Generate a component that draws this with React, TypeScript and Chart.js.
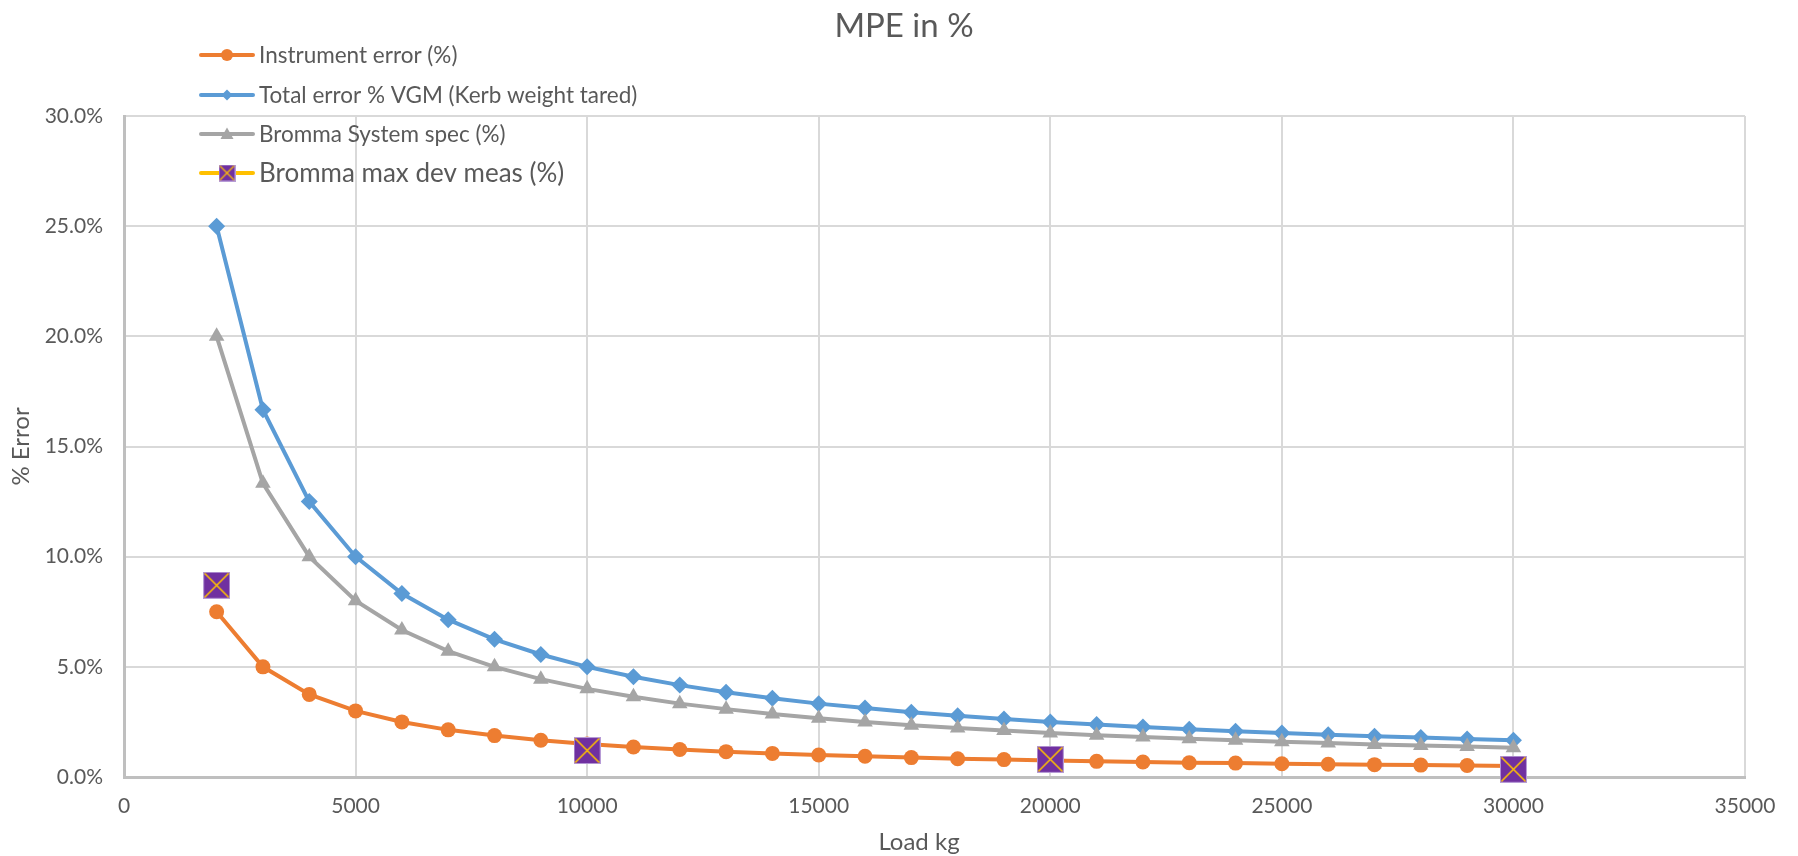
import React, { useEffect, useRef } from "react";
import { Chart, registerables } from "chart.js";

Chart.register(...registerables);

const loads = [
  2000, 3000, 4000, 5000, 6000, 7000, 8000, 9000, 10000, 11000, 12000, 13000, 14000, 15000,
  16000, 17000, 18000, 19000, 20000, 21000, 22000, 23000, 24000, 25000, 26000, 27000, 28000,
  29000, 30000,
];
const instrumentError = [
  7.5, 5.0, 3.75, 3.0, 2.5, 2.14, 1.88, 1.67, 1.5, 1.36, 1.25, 1.15, 1.07, 1.0, 0.94, 0.88,
  0.83, 0.79, 0.75, 0.71, 0.68, 0.65, 0.63, 0.6, 0.58, 0.56, 0.54, 0.52, 0.5,
];
const totalError = [
  25.0, 16.67, 12.5, 10.0, 8.33, 7.14, 6.25, 5.56, 5.0, 4.55, 4.17, 3.85, 3.57, 3.33, 3.13,
  2.94, 2.78, 2.63, 2.5, 2.38, 2.27, 2.17, 2.08, 2.0, 1.92, 1.85, 1.79, 1.72, 1.67,
];
const systemSpec = [
  20.0, 13.33, 10.0, 8.0, 6.67, 5.71, 5.0, 4.44, 4.0, 3.64, 3.33, 3.08, 2.86, 2.67, 2.5, 2.35,
  2.22, 2.11, 2.0, 1.9, 1.82, 1.74, 1.67, 1.6, 1.54, 1.48, 1.43, 1.38, 1.33,
];
const maxDevLoads = [2000, 10000, 20000, 30000];
const maxDevMeas = [8.7, 1.2, 0.8, 0.35];

const seriesNames = [
  "Instrument error (%)",
  "Total error % VGM (Kerb weight tared)",
  "Bromma System spec (%)",
  "Bromma max dev meas (%)",
];
const chartTitle = "MPE in %";
const xTitle = "Load kg";
const yTitle = "% Error";

const ORANGE = "#ED7D31";
const BLUE = "#5B9BD5";
const GRAY = "#A5A5A5";
const PURPLE = "#7030A0";
const YELLOW = "#FFC000";
const TEXT = "#595959";
const FONT = "Lato, 'Open Sans', sans-serif";

function makeSquare(size: number): HTMLCanvasElement {
  const c = document.createElement("canvas");
  c.width = size;
  c.height = size;
  const g = c.getContext("2d")!;
  g.fillStyle = "#B79BD6";
  g.fillRect(0, 0, size, size);
  g.fillStyle = PURPLE;
  g.fillRect(1, 1, size - 2, size - 2);
  g.strokeStyle = YELLOW;
  g.lineWidth = size > 20 ? 1.6 : 1.2;
  g.beginPath();
  g.moveTo(1.5, 1.5);
  g.lineTo(size - 1.5, size - 1.5);
  g.moveTo(size - 1.5, 1.5);
  g.lineTo(1.5, size - 1.5);
  g.stroke();
  return c;
}

export default function App() {
  const ref = useRef<HTMLCanvasElement | null>(null);

  useEffect(() => {
    if (!ref.current) return;
    const bigSquare = makeSquare(27);
    const smallSquare = makeSquare(17);

    const overlay = {
      id: "overlay",
      afterDraw(chart: any) {
        const ctx = chart.ctx as CanvasRenderingContext2D;
        ctx.save();
        // title
        ctx.fillStyle = TEXT;
        ctx.font = `33px ${FONT}`;
        ctx.textAlign = "center";
        ctx.textBaseline = "middle";
        ctx.fillText(chartTitle, 904, 26);

        // x-axis title
        ctx.font = `24px ${FONT}`;
        ctx.fillText(xTitle, 919, 842);

        // legend
        const rows = [55, 95, 134, 173];
        const colors = [ORANGE, BLUE, GRAY, YELLOW];
        for (let i = 0; i < 4; i++) {
          const y = rows[i];
          ctx.strokeStyle = colors[i];
          ctx.lineWidth = 4;
          ctx.lineCap = "round";
          ctx.beginPath();
          ctx.moveTo(201, y);
          ctx.lineTo(253, y);
          ctx.stroke();
          const mx = 227;
          if (i === 0) {
            ctx.fillStyle = ORANGE;
            ctx.beginPath();
            ctx.arc(mx, y, 6, 0, Math.PI * 2);
            ctx.fill();
          } else if (i === 1) {
            ctx.fillStyle = BLUE;
            ctx.beginPath();
            ctx.moveTo(mx - 5.5, y);
            ctx.lineTo(mx, y - 5.5);
            ctx.lineTo(mx + 5.5, y);
            ctx.lineTo(mx, y + 5.5);
            ctx.closePath();
            ctx.fill();
          } else if (i === 2) {
            ctx.fillStyle = GRAY;
            ctx.beginPath();
            ctx.moveTo(mx, y - 6.5);
            ctx.lineTo(mx + 6.5, y + 5);
            ctx.lineTo(mx - 6.5, y + 5);
            ctx.closePath();
            ctx.fill();
          } else {
            ctx.drawImage(smallSquare, mx - 8.5, y - 8.5);
          }
          ctx.fillStyle = TEXT;
          ctx.textAlign = "left";
          ctx.textBaseline = "middle";
          ctx.font = i === 3 ? `26px ${FONT}` : `22.5px ${FONT}`;
          ctx.fillText(seriesNames[i], 259, y + 1);
        }
        ctx.restore();
      },
    };

    const chart = new Chart(ref.current, {
      type: "line",
      data: {
        datasets: [
          {
            label: seriesNames[0],
            data: loads.map((x, i) => ({ x, y: instrumentError[i] })),
            borderColor: ORANGE,
            backgroundColor: ORANGE,
            borderWidth: 4,
            pointStyle: "circle",
            pointRadius: 7.5,
            pointBorderWidth: 0,
            order: 4,
          },
          {
            label: seriesNames[1],
            data: loads.map((x, i) => ({ x, y: totalError[i] })),
            borderColor: BLUE,
            backgroundColor: BLUE,
            borderWidth: 4,
            pointStyle: "rectRot",
            pointRadius: 8.5,
            pointBorderWidth: 0,
            order: 3,
          },
          {
            label: seriesNames[2],
            data: loads.map((x, i) => ({ x, y: systemSpec[i] })),
            borderColor: GRAY,
            backgroundColor: GRAY,
            borderWidth: 4,
            pointStyle: "triangle",
            pointRadius: 9,
            pointBorderWidth: 0,
            order: 2,
          },
          {
            label: seriesNames[3],
            data: maxDevLoads.map((x, i) => ({ x, y: maxDevMeas[i] })),
            borderColor: YELLOW,
            backgroundColor: PURPLE,
            showLine: false,
            pointStyle: bigSquare as any,
            pointRadius: 13,
            order: 1,
            clip: false as any,
          },
        ],
      },
      options: {
        animation: false,
        responsive: true,
        maintainAspectRatio: false,
        layout: { padding: { top: 116, right: 53, left: 0, bottom: 0 } },
        plugins: {
          legend: { display: false },
          tooltip: { enabled: false },
          title: { display: false },
        },
        scales: {
          x: {
            type: "linear",
            min: 0,
            max: 35000,
            afterFit(scale: any) {
              scale.height = 79;
            },
            ticks: {
              stepSize: 5000,
              color: TEXT,
              font: { family: FONT, size: 21 },
              padding: 17,
              maxRotation: 0,
              callback: (v: any) => String(v),
            },
            grid: { color: "#D9D9D9", lineWidth: 2, drawTicks: false },
            border: { color: "#BFBFBF", width: 3 },
            title: { display: false },
          },
          y: {
            type: "linear",
            min: 0,
            max: 30,
            afterFit(scale: any) {
              scale.width = 124;
            },
            ticks: {
              stepSize: 5,
              color: TEXT,
              font: { family: FONT, size: 21 },
              padding: 21,
              callback: (v: any) => Number(v).toFixed(1) + "%",
            },
            grid: { color: "#D9D9D9", lineWidth: 2, drawTicks: false },
            border: { color: "#BFBFBF", width: 3 },
            title: {
              display: true,
              text: yTitle,
              color: TEXT,
              font: { family: FONT, size: 24 },
              padding: { top: 7, bottom: 0 },
            },
          },
        },
      },
      plugins: [overlay],
    });
    return () => chart.destroy();
  }, []);

  return (
    <div style={{ position: "fixed", left: 0, top: 0, width: "100vw", height: "100vh", background: "#fff" }}>
      <canvas ref={ref} />
    </div>
  );
}
